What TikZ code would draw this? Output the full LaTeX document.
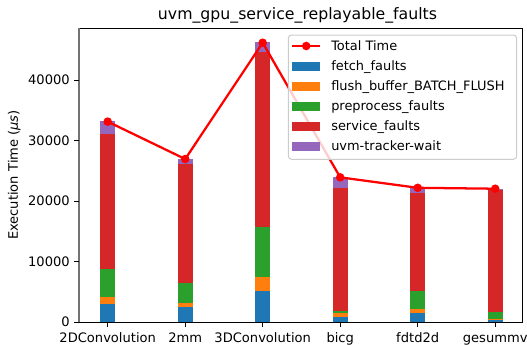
\documentclass[tikz,border=0pt]{standalone}
\usepackage{fontspec}
\setmainfont{DejaVu Sans}
\definecolor{cfetch}{HTML}{1F77B4}
\definecolor{cflush}{HTML}{FF7F0E}
\definecolor{cpre}{HTML}{2CA02C}
\definecolor{cservice}{HTML}{D62728}
\definecolor{ctracker}{HTML}{9467BD}
\definecolor{ctotal}{HTML}{FF0000}
\tikzset{
  ticklabel/.style={inner sep=0pt, font=\fontsize{9.8}{11.5}\selectfont},
  legtext/.style={inner sep=0pt, anchor=base west, font=\fontsize{9.7}{11.5}\selectfont},
  totalline/.style={draw=ctotal, line width=1.7pt, line join=round},
  totalmark/.style={fill=ctotal},
  frameline/.style={line width=0.75pt, black},
  tickline/.style={line width=0.75pt, black},
}
\begin{document}
\begin{tikzpicture}[x=0.75pt, y=-0.75pt,
  declare function={bx(\i)=107.7+77.5*\i; vy(\v)=322-6.045*\v;}]
\useasboundingbox (0,0) rectangle (527,344);

% stacked bars: cumulative tops (thousands of us) for the five segments
\foreach \i/\a/\b/\c/\d/\e in {
    0/3.03/4.14/8.82/31.15/33.2,
    1/2.48/3.2/6.45/26.09/27.0,
    2/5.18/7.44/15.66/44.6/46.3,
    3/0.83/1.43/1.87/22.22/24.0,
    4/1.43/2.21/5.07/21.39/22.2,
    5/0.5/0.55/1.65/22.0/22.05}{
  \fill[cfetch]   ({bx(\i)-7.7},{vy(0)})  rectangle ({bx(\i)+7.7},{vy(\a)});
  \fill[cflush]   ({bx(\i)-7.7},{vy(\a)}) rectangle ({bx(\i)+7.7},{vy(\b)});
  \fill[cpre]     ({bx(\i)-7.7},{vy(\b)}) rectangle ({bx(\i)+7.7},{vy(\c)});
  \fill[cservice] ({bx(\i)-7.7},{vy(\c)}) rectangle ({bx(\i)+7.7},{vy(\d)});
  \fill[ctracker] ({bx(\i)-7.7},{vy(\d)}) rectangle ({bx(\i)+7.7},{vy(\e)});
}

% total time line
\coordinate (p0) at ({bx(0)},{vy(33.15)});
\coordinate (p1) at ({bx(1)},{vy(26.96)});
\coordinate (p2) at ({bx(2)},{vy(46.2)});
\coordinate (p3) at ({bx(3)},{vy(23.93)});
\coordinate (p4) at ({bx(4)},{vy(22.2)});
\coordinate (p5) at ({bx(5)},{vy(22.05)});
\draw[totalline] (p0) -- (p1) -- (p2) -- (p3) -- (p4) -- (p5);
\foreach \p in {p0,p1,p2,p3,p4,p5} \fill[totalmark] (\p) circle (4.3);

% axes frame
\draw[frameline] (79,28) -- (522,28) -- (522,322) -- (79,322);
\draw[line width=1.1pt, black!55] (79,28) -- (79,322.4);

% y ticks
\foreach \v/\t in {0/0,10/10000,20/20000,30/30000,40/40000}{
  \draw[tickline] (74,{vy(\v)}) -- (79,{vy(\v)});
  \node[ticklabel, anchor=east] (yt\v) at (70,{vy(\v)}) {\t};
}

% x ticks
\foreach \i/\t in {0/2DConvolution,1/2mm,2/3DConvolution,3/bicg,4/fdtd2d,5/gesummv}{
  \draw[tickline] ({bx(\i)},322) -- ({bx(\i)},327);
  \node[ticklabel, anchor=base] (xt\i) at ({bx(\i)},342) {\t};
}

% axis label and title
\node[ticklabel, rotate=90, anchor=base] (ylab) at (17.8,175) {Execution Time (\textit{μs})};
\node[inner sep=0pt, anchor=base, font=\fontsize{11.8}{13.5}\selectfont] (title) at (297.5,19.8) {uvm\_gpu\_service\_replayable\_faults};

% legend
\draw[draw=black!20, fill=white, fill opacity=0.8, line width=0.75pt, rounded corners=2.5pt]
  (288.3,35) rectangle (516.7,159.3);
\draw[totalline] (292.3,46) -- (320,46);
\fill[totalmark] (306.2,46) circle (4.3);
\node[legtext] (l0) at (331,50.7) {Total Time};
\foreach \k/\c/\t in {1/cfetch/fetch\_faults,2/cflush/flush\_buffer\_BATCH\_FLUSH,3/cpre/preprocess\_faults,4/cservice/service\_faults,5/ctracker/uvm-tracker-wait}{
  \fill[\c] (292.3,{46+20*\k-4.5}) rectangle (320,{46+20*\k+4.5});
  \node[legtext] (l\k) at (331,{50.7+20*\k}) {\t};
}
\end{tikzpicture}
\end{document}
